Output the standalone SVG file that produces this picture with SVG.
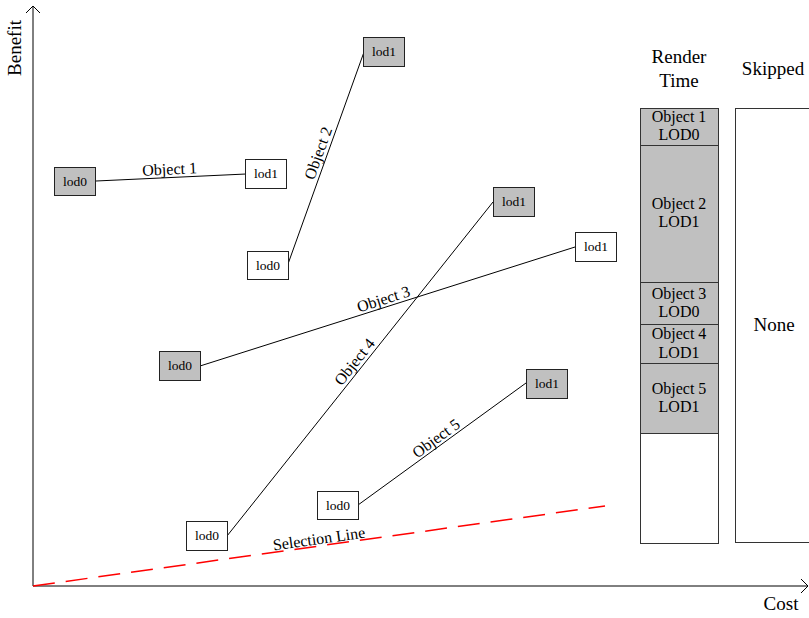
<svg xmlns="http://www.w3.org/2000/svg" width="809" height="618" viewBox="0 0 809 618">
<style>
text{font-family:"Liberation Serif","Times New Roman",serif;fill:#000}
.box{stroke:#222;stroke-width:1}
.g{fill:#c0c0c0}
.w{fill:#fff}
.bt{font-size:13.5px;text-anchor:middle}
.lbl{font-size:16px;text-anchor:middle}
.hd{font-size:19px;text-anchor:middle}
.ln{stroke:#000;stroke-width:1;fill:none}
.seg{stroke:#333;stroke-width:1}
</style>
<rect width="809" height="618" fill="#fff"/>
<g id="axes">
<path class="ln" d="M33,586 V6 M26,13 L33,6 L40,13 M33,586 H808 M801,579 L808,586 L801,593" stroke-width="1.2"/>
<text class="hd" transform="translate(21,48) rotate(-90)">Benefit</text>
<text class="hd" x="781" y="610">Cost</text>
</g>
<g id="connectors">
<line class="ln" x1="96" y1="181" x2="246" y2="174"/>
<line class="ln" x1="288" y1="264" x2="364" y2="52"/>
<line class="ln" x1="200" y1="366" x2="575" y2="247"/>
<line class="ln" x1="227" y1="536" x2="493" y2="202"/>
<line class="ln" x1="358" y1="505" x2="526" y2="383"/>
<line x1="33" y1="586" x2="605" y2="506" stroke="#ff0000" stroke-width="1.5" stroke-dasharray="22,11"/>
<text class="lbl" transform="translate(170,177.5) rotate(-2.7)" y="-3">Object 1</text>
<text class="lbl" transform="translate(326,156) rotate(-70.3)" y="-3">Object 2</text>
<text class="lbl" transform="translate(386,307) rotate(-17.6)" y="-3">Object 3</text>
<text class="lbl" transform="translate(361,367) rotate(-51.5)" y="-3">Object 4</text>
<text class="lbl" transform="translate(441,445) rotate(-36)" y="-3">Object 5</text>
<text class="lbl" transform="translate(320,546) rotate(-8)" y="-2">Selection Line</text>
</g>
<g id="o1lod0"><rect class="box g" x="54.5" y="167.5" width="41" height="28"/><text class="bt" x="75" y="186">lod0</text></g>
<g id="o1lod1"><rect class="box w" x="245.5" y="159.5" width="41" height="29"/><text class="bt" x="266" y="178">lod1</text></g>
<g id="o2lod0"><rect class="box w" x="247.5" y="251.5" width="41" height="28"/><text class="bt" x="268" y="270">lod0</text></g>
<g id="o2lod1"><rect class="box g" x="363.5" y="37.5" width="41" height="29"/><text class="bt" x="384" y="56">lod1</text></g>
<g id="o3lod0"><rect class="box g" x="159.5" y="351.5" width="41" height="29"/><text class="bt" x="180" y="370">lod0</text></g>
<g id="o3lod1"><rect class="box w" x="575.5" y="232.5" width="41" height="29"/><text class="bt" x="596" y="251">lod1</text></g>
<g id="o4lod0"><rect class="box w" x="186.5" y="521.5" width="41" height="29"/><text class="bt" x="207" y="540">lod0</text></g>
<g id="o4lod1"><rect class="box g" x="493.5" y="187.5" width="41" height="29"/><text class="bt" x="514" y="206">lod1</text></g>
<g id="o5lod0"><rect class="box w" x="317.5" y="491.5" width="41" height="28"/><text class="bt" x="338" y="510">lod0</text></g>
<g id="o5lod1"><rect class="box g" x="526.5" y="369.5" width="41" height="29"/><text class="bt" x="547" y="388">lod1</text></g>
<g id="render-time">
<text class="hd" x="679" y="63">Render</text>
<text class="hd" x="679" y="87">Time</text>
<rect class="seg g" x="640.5" y="108.5" width="78" height="37"/>
<rect class="seg g" x="640.5" y="145.5" width="78" height="137"/>
<rect class="seg g" x="640.5" y="282.5" width="78" height="42"/>
<rect class="seg g" x="640.5" y="324.5" width="78" height="39"/>
<rect class="seg g" x="640.5" y="363.5" width="78" height="70"/>
<rect class="seg w" x="640.5" y="433.5" width="78" height="110"/>
<text class="lbl" x="679" y="122">Object 1</text><text class="lbl" x="679" y="140">LOD0</text>
<text class="lbl" x="679" y="209">Object 2</text><text class="lbl" x="679" y="227">LOD1</text>
<text class="lbl" x="679" y="299">Object 3</text><text class="lbl" x="679" y="317">LOD0</text>
<text class="lbl" x="679" y="339">Object 4</text><text class="lbl" x="679" y="358">LOD1</text>
<text class="lbl" x="679" y="394">Object 5</text><text class="lbl" x="679" y="412">LOD1</text>
</g>
<g id="skipped">
<text class="hd" x="773" y="75">Skipped</text>
<rect class="seg w" x="735.5" y="108.5" width="100" height="434"/>
<text class="hd" x="774" y="331">None</text>
</g>
</svg>
